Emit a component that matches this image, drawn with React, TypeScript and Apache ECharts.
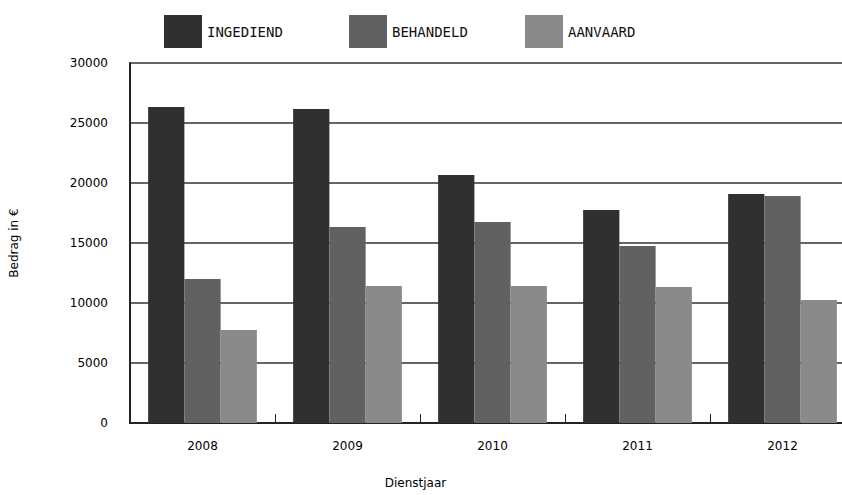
import React, { useEffect, useRef } from "react";
import * as echarts from "echarts";

const years = ["2008", "2009", "2010", "2011", "2012"];
const ingediend = [26333, 26167, 20667, 17750, 19083];
const behandeld = [12000, 16333, 16750, 14750, 18917];
const aanvaard = [7750, 11417, 11417, 11333, 10250];
const seriesNames = ["INGEDIEND", "BEHANDELD", "AANVAARD"];
const seriesColors = ["#303030", "#616161", "#8a8a8a"];
const yAxisName = "Bedrag in €";
const xAxisName = "Dienstjaar";

export default function App() {
  const ref = useRef<HTMLDivElement>(null);
  useEffect(() => {
    if (!ref.current) return;
    const chart = echarts.init(ref.current, null, { renderer: "svg" });
    const values = [ingediend, behandeld, aanvaard];
    const legendLefts = [159, 344, 520];
    chart.setOption({
      animation: false,
      backgroundColor: "#ffffff",
      legend: seriesNames.map((n, i) => ({
        data: [n],
        left: legendLefts[i],
        top: 10,
        itemWidth: 38,
        itemHeight: 33,
        icon: "rect",
        textStyle: {
          fontFamily: "DejaVu Sans Mono",
          fontSize: 14,
          color: "#111",
        },
      })),
      grid: {
        left: 130,
        top: 63,
        height: 360,
        width: 725,
        containLabel: false,
        outerBoundsMode: "none",
      },
      xAxis: {
        type: "category",
        data: years,
        name: xAxisName,
        nameLocation: "middle",
        nameGap: 54,
        nameTextStyle: {
          color: "#000",
          fontSize: 12,
          fontFamily: "DejaVu Sans",
          padding: [0, 154, 0, 0],
        },
        axisLine: { show: true, lineStyle: { color: "#222", width: 2 } },
        axisTick: { show: true, inside: true, length: 9, lineStyle: { color: "#222" } },
        axisLabel: { color: "#000", fontSize: 12, fontFamily: "DejaVu Sans", margin: 17 },
      },
      yAxis: {
        type: "value",
        min: 0,
        max: 30000,
        interval: 5000,
        name: yAxisName,
        nameLocation: "middle",
        nameGap: 110,
        nameTextStyle: { color: "#000", fontSize: 12, fontFamily: "DejaVu Sans" },
        axisLine: { show: true, lineStyle: { color: "#222", width: 2 } },
        axisTick: { show: false },
        axisLabel: {
          color: "#000",
          fontSize: 12,
          fontFamily: "DejaVu Sans",
          margin: 22,
          formatter: (v: number) => String(v),
        },
        splitLine: { show: true, lineStyle: { color: "#333", width: 1.5 } },
      },
      series: seriesNames.map((n, i) => ({
        name: n,
        type: "bar",
        data: values[i],
        barGap: "0%",
        barCategoryGap: "25%",
        itemStyle: { color: seriesColors[i] },
      })),
    });
    return () => chart.dispose();
  }, []);
  return (
    <div
      ref={ref}
      style={{ position: "absolute", left: 0, top: 0, width: 842, height: 495 }}
    />
  );
}
